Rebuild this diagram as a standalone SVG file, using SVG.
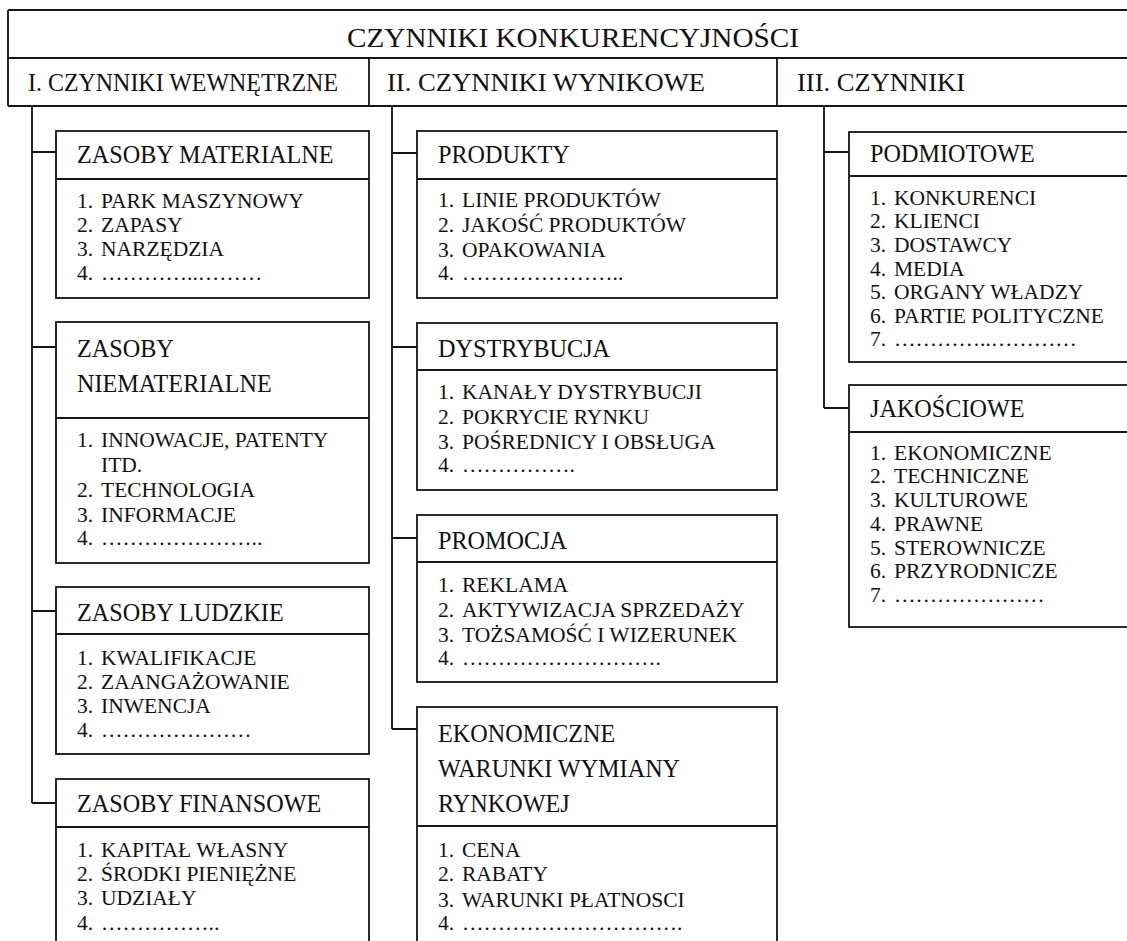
<svg xmlns="http://www.w3.org/2000/svg" width="1127" height="941" viewBox="0 0 1127 941">
  <style>
    .ln { fill: none; stroke: #151515; stroke-width: 1.8; }
    .box { fill: #fff; stroke: #151515; stroke-width: 1.8; }
    text { fill: #111; }
    .title { font-size: 28px; }
    .col { font-size: 26px; }
    .hd { font-size: 24.2px; }
    .it { font-size: 21.5px; }
  </style>
  <rect width="1127" height="941" fill="#fff"/>

  <g font-family="'Liberation Serif', 'Times New Roman', serif">
  <!-- heading table -->
  <g id="header">
    <path class="ln" d="M8 10 H1135 M8 58 H1135 M8 106 H1135 M8 10 V106 M369 58 V106 M777 58 V106"/>
    <text class="title" x="347" y="47" textLength="452" lengthAdjust="spacingAndGlyphs">CZYNNIKI KONKURENCYJNOŚCI</text>
    <text class="col" x="28" y="91" textLength="310" lengthAdjust="spacingAndGlyphs">I. CZYNNIKI WEWNĘTRZNE</text>
    <text class="col" x="387" y="91" textLength="318" lengthAdjust="spacingAndGlyphs">II. CZYNNIKI WYNIKOWE</text>
    <text class="col" x="797" y="91" textLength="168" lengthAdjust="spacingAndGlyphs">III. CZYNNIKI</text>
  </g>

  <!-- tree connectors -->
  <g id="connectors">
    <path class="ln" d="M32 106 V803 M32 152 H56 M32 347 H56 M32 611 H56 M32 803 H56"/>
    <path class="ln" d="M392 106 V729 M392 153 H417 M392 347 H417 M392 538 H417 M392 729 H417"/>
    <path class="ln" d="M824 106 V408 M824 152 H849 M824 408 H849"/>
  </g>

  <!-- column I -->
  <g id="zasoby-materialne">
    <rect class="box" x="56" y="131" width="313" height="167"/>
    <path class="ln" d="M56 179 H369"/>
    <text class="hd" x="77" y="163">ZASOBY MATERIALNE</text>
    <text class="it" x="77" y="208">1.</text><text class="it" x="101" y="208">PARK MASZYNOWY</text>
    <text class="it" x="77" y="232">2.</text><text class="it" x="101" y="232">ZAPASY</text>
    <text class="it" x="77" y="256">3.</text><text class="it" x="101" y="256">NARZĘDZIA</text>
    <text class="it" x="77" y="280">4.</text><text class="it" x="101" y="280">…………..………</text>
  </g>

  <g id="zasoby-niematerialne">
    <rect class="box" x="56" y="322" width="313" height="241"/>
    <path class="ln" d="M56 418 H369"/>
    <text class="hd" x="77" y="357">ZASOBY</text>
    <text class="hd" x="77" y="392">NIEMATERIALNE</text>
    <text class="it" x="77" y="447">1.</text><text class="it" x="101" y="447">INNOWACJE, PATENTY</text>
    <text class="it" x="101" y="472">ITD.</text>
    <text class="it" x="77" y="497">2.</text><text class="it" x="101" y="497">TECHNOLOGIA</text>
    <text class="it" x="77" y="522">3.</text><text class="it" x="101" y="522">INFORMACJE</text>
    <text class="it" x="77" y="545">4.</text><text class="it" x="101" y="545">…………………..</text>
  </g>

  <g id="zasoby-ludzkie">
    <rect class="box" x="56" y="587" width="313" height="167"/>
    <path class="ln" d="M56 634 H369"/>
    <text class="hd" x="77" y="621">ZASOBY LUDZKIE</text>
    <text class="it" x="77" y="665">1.</text><text class="it" x="101" y="665">KWALIFIKACJE</text>
    <text class="it" x="77" y="689">2.</text><text class="it" x="101" y="689">ZAANGAŻOWANIE</text>
    <text class="it" x="77" y="713">3.</text><text class="it" x="101" y="713">INWENCJA</text>
    <text class="it" x="77" y="737">4.</text><text class="it" x="101" y="737">…………………</text>
  </g>

  <g id="zasoby-finansowe">
    <rect class="box" x="56" y="779" width="313" height="180"/>
    <path class="ln" d="M56 827 H369"/>
    <text class="hd" x="77" y="812">ZASOBY FINANSOWE</text>
    <text class="it" x="77" y="857">1.</text><text class="it" x="101" y="857">KAPITAŁ WŁASNY</text>
    <text class="it" x="77" y="881">2.</text><text class="it" x="101" y="881">ŚRODKI PIENIĘŻNE</text>
    <text class="it" x="77" y="905">3.</text><text class="it" x="101" y="905">UDZIAŁY</text>
    <text class="it" x="77" y="930">4.</text><text class="it" x="101" y="930">……………..</text>
  </g>

  <!-- column II -->
  <g id="produkty">
    <rect class="box" x="417" y="131" width="360" height="167"/>
    <path class="ln" d="M417 179 H777"/>
    <text class="hd" x="438" y="163">PRODUKTY</text>
    <text class="it" x="438" y="207">1.</text><text class="it" x="462" y="207">LINIE PRODUKTÓW</text>
    <text class="it" x="438" y="232">2.</text><text class="it" x="462" y="232">JAKOŚĆ PRODUKTÓW</text>
    <text class="it" x="438" y="257">3.</text><text class="it" x="462" y="257">OPAKOWANIA</text>
    <text class="it" x="438" y="280">4.</text><text class="it" x="462" y="280">…………………..</text>
  </g>

  <g id="dystrybucja">
    <rect class="box" x="417" y="323" width="360" height="167"/>
    <path class="ln" d="M417 370 H777"/>
    <text class="hd" x="438" y="357">DYSTRYBUCJA</text>
    <text class="it" x="438" y="399">1.</text><text class="it" x="462" y="399">KANAŁY DYSTRYBUCJI</text>
    <text class="it" x="438" y="424">2.</text><text class="it" x="462" y="424">POKRYCIE RYNKU</text>
    <text class="it" x="438" y="449">3.</text><text class="it" x="462" y="449">POŚREDNICY I OBSŁUGA</text>
    <text class="it" x="438" y="472">4.</text><text class="it" x="462" y="472">…………….</text>
  </g>

  <g id="promocja">
    <rect class="box" x="417" y="515" width="360" height="167"/>
    <path class="ln" d="M417 562 H777"/>
    <text class="hd" x="438" y="549">PROMOCJA</text>
    <text class="it" x="438" y="592">1.</text><text class="it" x="462" y="592">REKLAMA</text>
    <text class="it" x="438" y="617">2.</text><text class="it" x="462" y="617">AKTYWIZACJA SPRZEDAŻY</text>
    <text class="it" x="438" y="642">3.</text><text class="it" x="462" y="642">TOŻSAMOŚĆ I WIZERUNEK</text>
    <text class="it" x="438" y="665">4.</text><text class="it" x="462" y="665">……………………….</text>
  </g>

  <g id="ekonomiczne-warunki">
    <rect class="box" x="417" y="707" width="360" height="252"/>
    <path class="ln" d="M417 826 H777"/>
    <text class="hd" x="438" y="742">EKONOMICZNE</text>
    <text class="hd" x="438" y="777">WARUNKI WYMIANY</text>
    <text class="hd" x="438" y="812">RYNKOWEJ</text>
    <text class="it" x="438" y="857">1.</text><text class="it" x="462" y="857">CENA</text>
    <text class="it" x="438" y="881">2.</text><text class="it" x="462" y="881">RABATY</text>
    <text class="it" x="438" y="907">3.</text><text class="it" x="462" y="907">WARUNKI PŁATNOSCI</text>
    <text class="it" x="438" y="930">4.</text><text class="it" x="462" y="930">………………………….</text>
  </g>

  <!-- column III -->
  <g id="podmiotowe">
    <rect class="box" x="849" y="132" width="290" height="230"/>
    <path class="ln" d="M849 176 H1139"/>
    <text class="hd" x="870" y="162">PODMIOTOWE</text>
    <text class="it" x="870" y="205">1.</text><text class="it" x="894" y="205">KONKURENCI</text>
    <text class="it" x="870" y="228">2.</text><text class="it" x="894" y="228">KLIENCI</text>
    <text class="it" x="870" y="252">3.</text><text class="it" x="894" y="252">DOSTAWCY</text>
    <text class="it" x="870" y="276">4.</text><text class="it" x="894" y="276">MEDIA</text>
    <text class="it" x="870" y="299">5.</text><text class="it" x="894" y="299">ORGANY WŁADZY</text>
    <text class="it" x="870" y="323">6.</text><text class="it" x="894" y="323">PARTIE POLITYCZNE</text>
    <text class="it" x="870" y="346">7.</text><text class="it" x="894" y="346">…………..…………</text>
  </g>

  <g id="jakosciowe">
    <rect class="box" x="849" y="385" width="290" height="242"/>
    <path class="ln" d="M849 432 H1139"/>
    <text class="hd" x="870" y="417">JAKOŚCIOWE</text>
    <text class="it" x="870" y="460">1.</text><text class="it" x="894" y="460">EKONOMICZNE</text>
    <text class="it" x="870" y="483">2.</text><text class="it" x="894" y="483">TECHNICZNE</text>
    <text class="it" x="870" y="507">3.</text><text class="it" x="894" y="507">KULTUROWE</text>
    <text class="it" x="870" y="531">4.</text><text class="it" x="894" y="531">PRAWNE</text>
    <text class="it" x="870" y="555">5.</text><text class="it" x="894" y="555">STEROWNICZE</text>
    <text class="it" x="870" y="578">6.</text><text class="it" x="894" y="578">PRZYRODNICZE</text>
    <text class="it" x="870" y="602">7.</text><text class="it" x="894" y="602">…………………</text>
  </g>
  </g>
</svg>
